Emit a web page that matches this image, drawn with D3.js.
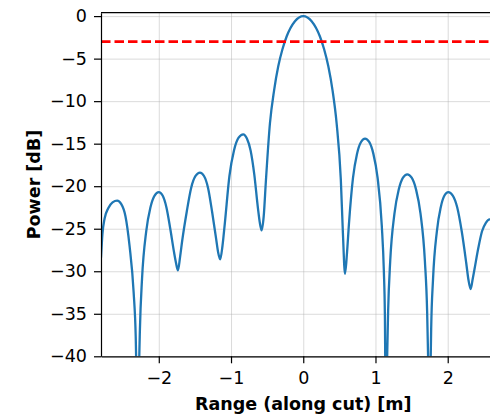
<html>
<head>
<meta charset="utf-8">
<script src="https://d3js.org/d3.v7.min.js"></script>
<style>
  body { margin: 0; background: white; }
  text { font-family: "DejaVu Sans", sans-serif; fill: #000; }
  .grid line { stroke: #b0b0b0; stroke-opacity: 0.45; stroke-width: 1; }
  .grid .domain { stroke: none; }
  .axis .domain, .axis line { stroke: #000; stroke-width: 1.2; }
</style>
</head>
<body>
<svg id="cut" width="490" height="415"></svg>
<script>
// range along cut [m] and power [dB]
const rangeM = [
  -2.80, -2.78, -2.75, -2.70, -2.64, -2.576, -2.519, -2.462, -2.405, -2.348, -2.319, -2.305, -2.29,
  -2.276, -2.261, -2.232, -2.174, -2.116, -2.058, -2.0, -1.947, -1.894, -1.841, -1.788, -1.762, -1.735,
  -1.705, -1.674, -1.613, -1.552, -1.491, -1.43, -1.374, -1.318, -1.262, -1.206, -1.178, -1.15,
  -1.118, -1.086, -1.022, -0.959, -0.895, -0.831, -0.780, -0.729, -0.678, -0.627, -0.601, -0.576,
  -0.547, -0.518, -0.461, -0.403, -0.346, -0.288, -0.230, -0.115, 0, 0.116, 0.231, 0.289, 0.347, 0.405, 0.462, 0.520, 0.549, 0.578,
  0.606, 0.633, 0.689, 0.744, 0.800, 0.855, 0.913, 0.971, 1.029, 1.087, 1.116, 1.130, 1.145,
  1.160, 1.175, 1.204, 1.263, 1.322, 1.381, 1.44, 1.501, 1.562, 1.623, 1.684, 1.715, 1.730, 1.745,
  1.760, 1.771, 1.797, 1.850, 1.903, 1.955, 2.008, 2.070, 2.132, 2.194, 2.256, 2.287, 2.318,
  2.344, 2.370, 2.423, 2.475, 2.528, 2.58, 2.64
];
const powerDb = [
  -28.4, -25.6, -23.8, -22.6, -21.9, -21.7, -22.1, -23.5, -27.0, -32.5, -37.8, -43.8, -55,
  -43, -36.8, -30.9, -25.3, -22.5, -21.1, -20.7, -21.1, -22.5, -25.0, -27.8, -29.0, -29.9,
  -28.3, -26.3, -23.0, -20.2, -18.8, -18.4, -18.8, -20.2, -23.0, -26.2, -27.8, -28.6,
  -27.0, -24.4, -18.8, -15.8, -14.3, -13.9, -14.4, -15.8, -18.6, -22.6, -24.3, -25.2,
  -23.5, -19.5, -12.6, -8.7, -5.9, -3.9, -2.4, -0.6, 0, -0.6, -2.4, -3.9, -5.9, -8.7, -12.6, -19.2, -25.5, -30.3,
  -27.8, -24.4, -19.0, -16.2, -14.8, -14.4, -14.8, -16.2, -19.0, -24.6, -30.0, -35, -50,
  -40.7, -34.7, -28.8, -23.2, -20.4, -19.0, -18.6, -19.0, -20.4, -23.2, -28.8, -34.7, -40.7, -50,
  -42.8, -36.8, -30.9, -25.3, -22.5, -21.1, -20.7, -21.1, -22.5, -25.3, -29.0, -31.0, -32.1,
  -31.0, -29.8, -27.3, -25.3, -24.3, -23.9, -24.2
];
const xTicks = [-2, -1, 0, 1, 2];
const yTicks = [0, -5, -10, -15, -20, -25, -30, -35, -40];
const thresholdDb = -3;

const svg = d3.select("#cut");
const margin = {left: 101, top: 12.7, right: 505.5, bottom: 356.3};
const fmt = d => String(d).replace("-", "\u2212");

const x = d3.scaleLinear().domain([-2.8, 2.8]).range([margin.left, margin.right]);
const y = d3.scaleLinear().domain([-40, 0.4]).range([margin.bottom, margin.top]);

svg.append("defs").append("clipPath").attr("id", "plotclip")
  .append("rect")
  .attr("x", margin.left).attr("y", margin.top)
  .attr("width", margin.right - margin.left).attr("height", margin.bottom - margin.top);

// gridlines
svg.append("g").attr("class", "grid")
  .attr("transform", `translate(0,${margin.bottom})`)
  .call(d3.axisBottom(x).tickValues(xTicks).tickSize(-(margin.bottom - margin.top)).tickFormat(""));
svg.append("g").attr("class", "grid")
  .attr("transform", `translate(${margin.left},0)`)
  .call(d3.axisLeft(y).tickValues(yTicks).tickSize(-(margin.right - margin.left)).tickFormat(""));

const plot = svg.append("g").attr("clip-path", "url(#plotclip)");

const line = d3.line()
  .x((d, i) => x(rangeM[i]))
  .y(d => y(d))
  .curve(d3.curveMonotoneX);

plot.append("path")
  .datum(powerDb)
  .attr("d", line)
  .attr("fill", "none")
  .attr("stroke", "#1f77b4")
  .attr("stroke-width", 2.3)
  .attr("stroke-linejoin", "round");

plot.append("line")
  .attr("x1", x(-2.8)).attr("x2", x(2.8))
  .attr("y1", y(thresholdDb)).attr("y2", y(thresholdDb))
  .attr("stroke", "red")
  .attr("stroke-width", 2.6)
  .attr("stroke-dasharray", "9.5,4");

// axes
const xAxis = svg.append("g").attr("class", "axis")
  .attr("transform", `translate(0,${margin.bottom})`)
  .call(d3.axisBottom(x).tickValues(xTicks).tickSize(7).tickPadding(8).tickFormat(fmt).tickSizeOuter(0));
xAxis.selectAll("text").style("font-size", "17.5px");

const yAxis = svg.append("g").attr("class", "axis")
  .attr("transform", `translate(${margin.left},0)`)
  .call(d3.axisLeft(y).tickValues(yTicks).tickSize(7).tickPadding(7).tickFormat(fmt).tickSizeOuter(0));
yAxis.selectAll("text").style("font-size", "17.5px");

// top spine
svg.append("line")
  .attr("x1", margin.left).attr("x2", margin.right)
  .attr("y1", margin.top).attr("y2", margin.top)
  .attr("stroke", "#000").attr("stroke-width", 1.2);

svg.append("text")
  .attr("x", (margin.left + margin.right) / 2)
  .attr("y", 410)
  .attr("text-anchor", "middle")
  .style("font-size", "17.5px")
  .style("font-weight", "bold")
  .text("Range (along cut) [m]");

svg.append("text")
  .attr("transform", `translate(39.5,${(margin.top + margin.bottom) / 2}) rotate(-90)`)
  .attr("text-anchor", "middle")
  .style("font-size", "17.5px")
  .style("font-weight", "bold")
  .text("Power [dB]");
</script>
</body>
</html>
